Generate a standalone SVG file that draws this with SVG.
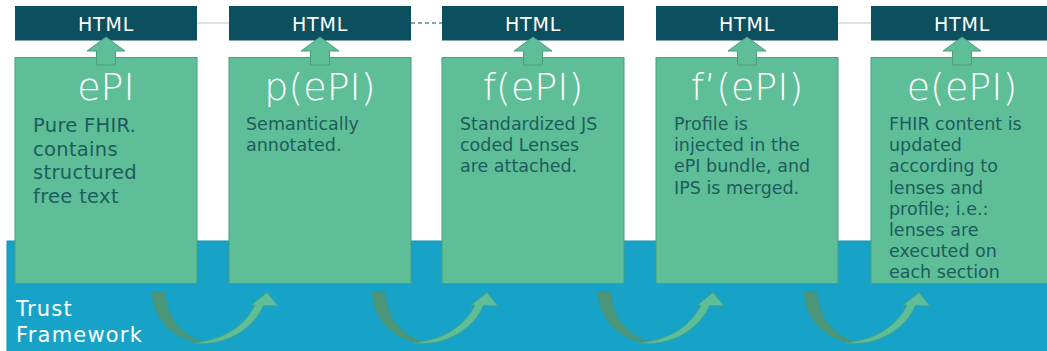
<svg xmlns="http://www.w3.org/2000/svg" width="1047" height="351" viewBox="0 0 1047 351">
<style>
.html{fill:#0c4f5f}
.htmlt{font-family:"DejaVu Sans",sans-serif;font-size:19px;fill:#ffffff;text-anchor:middle;letter-spacing:0.8px}
.box{fill:#5dbe98;stroke:#4b9f7f;stroke-width:1}
.title{font-family:"DejaVu Sans",sans-serif;font-weight:200;font-size:38px;fill:#ffffff;text-anchor:middle}
.desc{font-family:"DejaVu Sans",sans-serif;font-size:17.5px;fill:#1d5c5c}
.desc1{font-family:"DejaVu Sans",sans-serif;font-size:19.5px;fill:#1d5c5c;letter-spacing:0.3px}
.up{fill:#5dbe98;stroke:#4b9f7f;stroke-width:1}
.dark{fill:#4a9679;stroke:#46907a;stroke-width:0.8}
.light{fill:#5dbe98;stroke:#4b9f7f;stroke-width:0.8}
.tf{font-family:"DejaVu Sans",sans-serif;font-size:21px;fill:#ffffff;letter-spacing:1.2px}
</style>
<defs>
<g id="curve">
<path class="dark" d="M152,292 L165,292 C166,318 184,341 213,343.5 C180,344 154,325 152,292 Z"/>
<path class="light" d="M193,343 C216,346.5 250,336 263.5,305.5 L278,306 L267,292.5 L251.5,305 L255,305 C245,325 225,340 193,343 Z"/>
</g>
<polygon id="uparrow" points="0,37 19,51 9.5,51 9.5,65 -9.5,65 -9.5,51 -19,51"/>
</defs>
<rect id="trust-band" x="7" y="241" width="1045" height="115" fill="#17a2c8" stroke="#1591b4" stroke-width="1"/>
<text class="tf" x="16" y="316">Trust</text>
<text class="tf" x="16" y="342">Framework</text>
<g id="connectors">
<line x1="197" y1="23" x2="229" y2="23" stroke="#b7c8cc" stroke-width="1"/>
<line x1="411" y1="23" x2="442" y2="23" stroke="#0c4f5f" stroke-width="1.2" stroke-dasharray="4,3"/>
<line x1="838" y1="23" x2="871" y2="23" stroke="#b7c8cc" stroke-width="1"/>
<use href="#curve"/>
<use href="#curve" transform="translate(220,0)"/>
<use href="#curve" transform="translate(446,0)"/>
<use href="#curve" transform="translate(652,0)"/>
</g>
<g id="node1">
<rect class="html" x="15" y="6" width="182" height="34.5"/>
<text class="htmlt" x="106" y="30.5">HTML</text>
<rect class="box" x="15" y="57.5" width="182" height="226"/>
<use href="#uparrow" class="up" transform="translate(106,0)"/>
<text class="title" x="106" y="100">ePI</text>
<text class="desc1" x="33" y="132">Pure FHIR.</text>
<text class="desc1" x="33" y="155.7">contains</text>
<text class="desc1" x="33" y="179.3">structured</text>
<text class="desc1" x="33" y="203">free text</text>
</g>
<g id="node2">
<rect class="html" x="229" y="6" width="182" height="34.5"/>
<text class="htmlt" x="320" y="30.5">HTML</text>
<rect class="box" x="229" y="57.5" width="182" height="226"/>
<use href="#uparrow" class="up" transform="translate(320,0)"/>
<text class="title" x="320" y="100">p(ePI)</text>
<text class="desc" x="246" y="130">Semantically</text>
<text class="desc" x="246" y="151.2">annotated.</text>
</g>
<g id="node3">
<rect class="html" x="442" y="6" width="182" height="34.5"/>
<text class="htmlt" x="533" y="30.5">HTML</text>
<rect class="box" x="442" y="57.5" width="182" height="226"/>
<use href="#uparrow" class="up" transform="translate(533,0)"/>
<text class="title" x="533" y="100">f(ePI)</text>
<text class="desc" x="460" y="130">Standardized JS</text>
<text class="desc" x="460" y="151.2">coded Lenses</text>
<text class="desc" x="460" y="172.4">are attached.</text>
</g>
<g id="node4">
<rect class="html" x="656" y="6" width="182" height="34.5"/>
<text class="htmlt" x="747" y="30.5">HTML</text>
<rect class="box" x="656" y="57.5" width="182" height="226"/>
<use href="#uparrow" class="up" transform="translate(747,0)"/>
<text class="title" x="747" y="100">f’(ePI)</text>
<text class="desc" x="674" y="130">Profile is</text>
<text class="desc" x="674" y="151.2">injected in the</text>
<text class="desc" x="674" y="172.4">ePI bundle, and</text>
<text class="desc" x="674" y="193.6">IPS is merged.</text>
</g>
<g id="node5">
<rect class="html" x="871" y="6" width="182" height="34.5"/>
<text class="htmlt" x="962" y="30.5">HTML</text>
<rect class="box" x="871" y="57.5" width="182" height="226"/>
<use href="#uparrow" class="up" transform="translate(962,0)"/>
<text class="title" x="962" y="100">e(ePI)</text>
<text class="desc" x="889" y="130">FHIR content is</text>
<text class="desc" x="889" y="151.2">updated</text>
<text class="desc" x="889" y="172.4">according to</text>
<text class="desc" x="889" y="193.6">lenses and</text>
<text class="desc" x="889" y="214.8">profile; i.e.:</text>
<text class="desc" x="889" y="236">lenses are</text>
<text class="desc" x="889" y="257.2">executed on</text>
<text class="desc" x="889" y="278.4">each section</text>
</g>
</svg>
